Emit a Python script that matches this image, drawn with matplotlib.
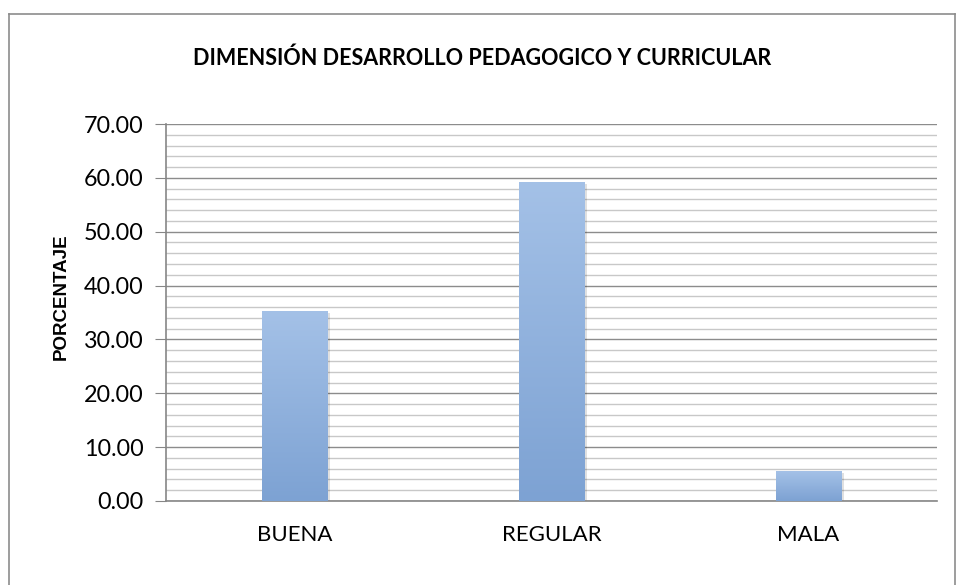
import matplotlib
matplotlib.use('Agg')
import matplotlib.pyplot as plt
import numpy as np
from matplotlib.ticker import MultipleLocator, FormatStrFormatter
from matplotlib.lines import Line2D

categorias = ['BUENA', 'REGULAR', 'MALA']
porcentaje = [35.19, 59.26, 5.56]
titulo = 'DIMENSIÓN DESARROLLO PEDAGOGICO Y CURRICULAR'

plt.rcParams['font.family'] = ['Lato', 'DejaVu Sans']

fig = plt.figure(figsize=(9.56, 5.85), dpi=100)
ax = fig.add_axes([0.1736, 0.1436, 0.8065, 0.6444])

x = np.arange(len(categorias))
ancho = 0.253
barras = ax.bar(x, porcentaje, width=ancho, color='#92B3DF', zorder=3)

# sombra y degradado de las barras
grad = np.linspace(0, 1, 256).reshape(-1, 1)
cmap = matplotlib.colors.LinearSegmentedColormap.from_list('g', ['#7DA2D3', '#A4C1E7'])
for b in barras:
    bx, by = b.get_x(), b.get_y()
    w, h = b.get_width(), b.get_height()
    ax.bar(bx + w / 2 + 0.006, h, width=w + 0.012, bottom=-0.35, color='#000000',
           alpha=0.12, zorder=2)
    im = ax.imshow(grad, extent=[bx, bx + w, 0, h], origin='lower', cmap=cmap,
                   aspect='auto', zorder=4)
    im.set_clip_path(b)

ax.set_xlim(-0.5, 2.5)
ax.set_ylim(0, 70)
ax.yaxis.set_major_locator(MultipleLocator(10))
ax.yaxis.set_minor_locator(MultipleLocator(2))
ax.yaxis.set_major_formatter(FormatStrFormatter('%.2f'))
ax.grid(axis='y', which='major', color='#8C8C8C', linewidth=1.0, zorder=0)
ax.grid(axis='y', which='minor', color='#C8C8C8', linewidth=1.0, zorder=0)
ax.set_axisbelow(True)

ax.set_xticks(x)
ax.set_xticklabels(categorias, fontsize=16)
ax.tick_params(axis='x', length=0, pad=17)
ax.tick_params(axis='y', which='major', length=8, color='#868686', labelsize=16.8, pad=8)
ax.tick_params(axis='y', which='minor', length=0)

for s in ['top', 'right']:
    ax.spines[s].set_visible(False)
for s in ['left', 'bottom']:
    ax.spines[s].set_color('#868686')
    ax.spines[s].set_linewidth(1.2)

fig.text(0.064, 0.492, 'PORCENTAJE', rotation=90, ha='center', va='center',
         fontsize=13.5, fontweight='bold', family='Liberation Sans')
fig.text(0.504, 0.901, titulo, ha='center', va='center', fontsize=15.5, fontweight='bold')

# marco del grafico
borde = dict(color='#8C8C8C', linewidth=1.2, transform=fig.transFigure)
fig.add_artist(Line2D([0.0094, 0.0094], [0.0, 0.976], **borde))
fig.add_artist(Line2D([0.0094, 0.999], [0.976, 0.976], **borde))
fig.add_artist(Line2D([0.999, 0.999], [0.0, 0.976], **borde))

fig.savefig('out.png', dpi=100)
